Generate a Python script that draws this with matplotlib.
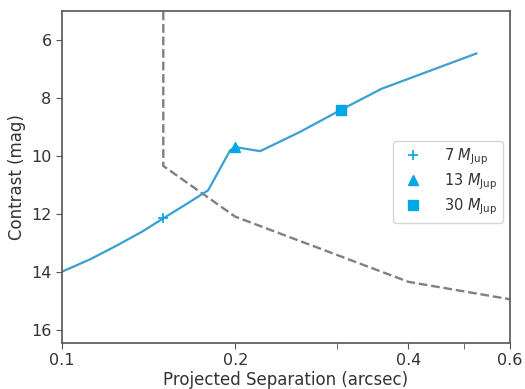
import matplotlib
matplotlib.use('Agg')
import matplotlib.pyplot as plt
from matplotlib.ticker import FixedLocator, NullFormatter

# contrast curve of the companion model (blue)
sep = [0.1, 0.112, 0.125, 0.138, 0.15, 0.165, 0.1795, 0.196, 0.2, 0.221, 0.259, 0.305, 0.359, 0.525]
contrast = [14.0, 13.57, 13.08, 12.61, 12.16, 11.65, 11.19, 9.81, 9.7, 9.84, 9.18, 8.42, 7.69, 6.47]

# detection limit (dashed)
lim_sep = [0.15, 0.15, 0.2, 0.4, 0.6]
lim_con = [4.0, 10.35, 12.1, 14.35, 14.95]

# mass markers
mass_labels = [r'7 $M_{\rm Jup}$', r'13 $M_{\rm Jup}$', r'30 $M_{\rm Jup}$']
mass_sep = [0.15, 0.2, 0.305]
mass_con = [12.16, 9.7, 8.42]
mass_mk = ['+', '^', 's']

xticks = [0.1, 0.2, 0.4, 0.6]
xtick_labels = ['0.1', '0.2', '0.4', '0.6']
minor_ticks = [0.3, 0.5]

txt = '#333333'
plt.rcParams['font.family'] = 'DejaVu Sans'

fig = plt.figure(figsize=(5.25, 3.89), dpi=100)
ax = fig.add_axes([0.118, 0.119, 0.853, 0.853])

ax.plot(lim_sep, lim_con, '--', color='#808080', lw=1.7)
ax.plot(sep, contrast, color='#3a9fd2', lw=1.6)
for lab, xs, ys, mk in zip(mass_labels, mass_sep, mass_con, mass_mk):
    ax.plot(xs, ys, mk, color='#00a6e6', ms=7 if mk == '+' else 6.5,
            mew=1.2 if mk == '+' else 1, label=lab, linestyle='none')

ax.set_xscale('log')
ax.set_xlim(0.1, 0.6)
ax.set_ylim(16.45, 5.0)
ax.xaxis.set_major_locator(FixedLocator(xticks))
ax.set_xticklabels(xtick_labels)
ax.xaxis.set_minor_locator(FixedLocator(minor_ticks))
ax.xaxis.set_minor_formatter(NullFormatter())
ax.set_yticks([6, 8, 10, 12, 14, 16])

ax.tick_params(axis='both', which='both', colors='#555555', labelcolor=txt,
               labelsize=11.5, direction='out', length=4)
for s in ax.spines.values():
    s.set_color('#555555')
    s.set_linewidth(1.2)

ax.set_xlabel('Projected Separation (arcsec)', fontsize=12, color=txt, labelpad=2)
ax.set_ylabel('Contrast (mag)', fontsize=12, color=txt)

leg = ax.legend(loc='center right', bbox_to_anchor=(1.0, 0.485), fontsize=10.5,
                frameon=True, handletextpad=1.1, borderaxespad=0.45,
                labelspacing=0.3, labelcolor=txt)
leg.get_frame().set_edgecolor('#cccccc')

fig.savefig('out.png', dpi=100)
